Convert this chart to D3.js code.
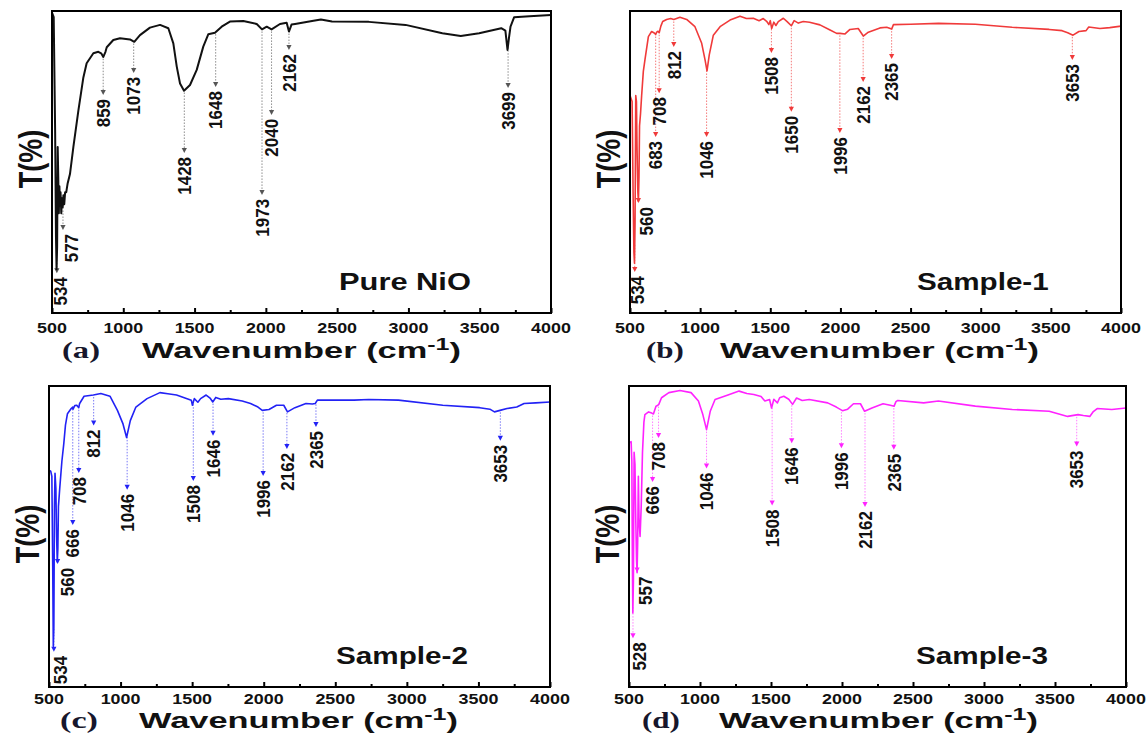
<!DOCTYPE html>
<html>
<head>
<meta charset="utf-8">
<script src="https://cdn.jsdelivr.net/npm/d3@7"></script>
<style>
  body { margin: 0; background: #fff; }
  text { font-family: "Liberation Sans", Arial, sans-serif; }
</style>
</head>
<body>
<script>
var W = 1146, H = 734;

// x axis
var wavenumberTicks = [500, 1000, 1500, 2000, 2500, 3000, 3500, 4000];
var minorTicks = [750, 1250, 1750, 2250, 2750, 3250, 3750];

var sampleNames = ['Pure NiO', 'Sample-1', 'Sample-2', 'Sample-3'];
var panelLetters = ['(a)', '(b)', '(c)', '(d)'];

// spectra, [wavenumber, T] with T on a 0-100 relative scale
var pureNiO = [[500,99.5],[512,98],[522,60],[528,25],[532,14.5],[536,22],[540,55],[544,45],[548,33],
  [552,42],[556,36],[560,40],[565,33],[570,38],[575,35],[580,39],[586,36],[592,40],[600,40],[610,43],
  [626,46],[650,55],[685,67],[720,78],[743,82.7],[790,86],[825,86.5],[845,86],[860,84.8],[875,86.5],
  [884,88],[930,90.4],[977,91],[1047,90.6],[1077,89.8],[1117,92],[1187,94.5],[1258,95.4],[1316,94.3],
  [1351,89.3],[1375,81.6],[1398,76],[1426,73.6],[1468,75.5],[1515,80.5],[1561,88.2],[1596,92.3],
  [1643,92.8],[1690,94.8],[1748,96.5],[1842,96.7],[1936,95.7],[1973,93.9],[2006,94.8],[2040,93.9],
  [2099,95.7],[2146,96.1],[2162,93.2],[2180,95.5],[2205,95.7],[2334,96.8],[2386,97.2],[2464,96.5],
  [2722,96.4],[2980,95.4],[3238,92.6],[3367,91.7],[3496,92.6],[3651,94.3],[3680,93.5],[3695,87.1],
  [3705,91],[3716,94.8],[3741,97.9],[3850,98.3],[4000,98.7]];

var sample1 = [[500,72],[515,70],[522,40],[528,20],[532,16.5],[536,30],[541,72],[546,70],[550,55],
  [556,40],[560,37],[564,45],[568,62],[575,66],[583,72],[595,80],[607,84],[631,91.5],[654,93.2],
  [673,92.7],[683,92.2],[690,93],[700,93.3],[708,92.8],[720,95],[733,96.5],[761,97.2],[790,97.5],
  [812,97.2],[856,97.9],[904,97.2],[963,94.8],[1011,89.3],[1035,83.8],[1049,80.2],[1065,85.5],
  [1094,92],[1142,94.8],[1213,97],[1284,98.3],[1330,97.5],[1379,97.6],[1420,96.8],[1450,97.5],
  [1474,96.6],[1490,95.5],[1500,96.8],[1510,94.2],[1525,96.3],[1540,95.2],[1557,96.5],[1593,97.6],
  [1620,96.5],[1650,95.1],[1670,96.8],[1700,96],[1735,96.5],[1780,96.3],[1854,95.4],[1926,93.7],
  [1973,92.6],[1997,92.6],[2033,92.4],[2068,93.9],[2127,94.2],[2163,91.7],[2199,93],[2282,94.4],
  [2330,94.6],[2365,94],[2378,95.5],[2500,95.6],[2699,95.9],[2962,95.6],[3224,94.6],[3487,93.9],
  [3580,93.5],[3620,92.8],[3658,92],[3700,93.2],[3751,93.5],[3770,94.7],[3850,94.2],[3920,94.5],
  [4000,95]];

var sample2 = [[500,72],[512,71.7],[520,70],[526,40],[530,13.5],[534,20],[538,60],[542,71],[548,66],
  [553,50],[558,41.5],[562,46],[566,60],[575,66],[590,75],[603,80.7],[615,87],[629,90.8],[655,92.5],
  [666,93],[668,92.3],[680,93.5],[694,93.6],[708,92.8],[714,94.2],[745,96.6],[810,97],[862,97.5],
  [926,96.6],[978,91.9],[1017,87.4],[1042,82.9],[1068,88.5],[1107,93],[1185,95.8],[1275,97.8],
  [1330,97.4],[1391,97],[1440,96.2],[1494,95.3],[1502,93.6],[1515,95.8],[1540,94.6],[1559,95.8],
  [1598,97],[1625,96],[1644,94.7],[1665,96.2],[1700,95.6],[1753,95.8],[1850,95],[1908,94.2],
  [1960,93],[1990,91.9],[2037,92.2],[2089,93.6],[2140,93.6],[2166,91.4],[2218,92.8],[2295,94.2],
  [2340,94],[2360,94.2],[2375,95.3],[2631,95.3],[2734,95.5],[2941,95.3],[3251,93.6],[3509,92.8],
  [3580,92.3],[3612,91.4],[3651,91.9],[3700,92.5],[3768,93],[3819,94.2],[3900,94.4],[4000,94.7]];

var sample3 = [[500,81],[515,81.5],[520,75],[524,40],[527,24.6],[531,35],[536,78],[542,74],[548,55],
  [553,42],[557,38],[561,48],[566,70],[571,55],[578,50],[586,60],[595,78],[605,88],[612,90.5],
  [638,91.4],[660,91],[672,90.7],[690,93.3],[700,93.5],[710,93.9],[729,96.1],[781,97.8],[859,98.5],
  [937,97.8],[989,95],[1020,90.5],[1046,85.5],[1072,91.6],[1106,95.5],[1197,97],[1275,98.3],
  [1330,97.5],[1379,97.2],[1430,96.5],[1457,95],[1490,95.5],[1504,92.7],[1520,95.6],[1545,94.4],
  [1561,96.1],[1590,96.6],[1625,95.6],[1652,93.9],[1680,96],[1720,95.2],[1769,95.5],[1899,94.4],
  [1960,93],[2003,91.8],[2040,92.3],[2081,94.1],[2130,94.1],[2159,91.6],[2211,92.7],[2289,94.1],
  [2340,93.6],[2367,93.3],[2380,94.8],[2393,95.2],[2575,94.4],[2679,95],[2939,93.3],[3199,92.2],
  [3459,91.6],[3589,89.9],[3662,90.5],[3700,90.2],[3745,89.9],[3770,91.5],[3797,92.5],[3900,92.2],
  [4000,92.7]];

// marked bands and where each arrow ends (T units)
var peaksNiO = [534, 577, 859, 1073, 1428, 1648, 1973, 2040, 2162, 3699];
var tipsNiO  = [13.2, 27.5, 72.2, 79.5, 53, 74.8, 39.1, 65.6, 87.1, 74.5];
var peaks1 = [534, 560, 683, 708, 812, 1046, 1508, 1650, 1996, 2162, 2365, 3653];
var tips1  = [13.6, 36.4, 58.3, 72.8, 88.1, 58.3, 86.1, 66.6, 59.6, 76.5, 84.1, 83.8];
var peaks2 = [534, 560, 666, 708, 812, 1046, 1508, 1646, 1996, 2162, 2365, 3653];
var tips2  = [11.7, 40.9, 53.8, 71.1, 86.9, 65.5, 68.4, 83.5, 70.1, 79.1, 86.4, 81.8];
var peaks3 = [528, 557, 666, 708, 1046, 1508, 1646, 1996, 2162, 2365, 3653];
var tips3  = [16.2, 38, 68.1, 82.7, 72.6, 60.3, 81, 79.3, 59.8, 78.8, 79.9];

// layout; nudge moves the two crowded left-most labels off their arrows
var panels = [
  { x0: 52,  x1: 551,  y0: 11,  y1: 313, data: pureNiO, peaks: peaksNiO, tips: tipsNiO,
    line: '#111', lw: 2, guide: '#8c8c8c', head: '#555', letterDx: 10, tickGap: 20, below: 45, nudge: [3, 8] },
  { x0: 630, x1: 1121, y0: 11,  y1: 313, data: sample1, peaks: peaks1, tips: tips1,
    line: '#f03a3a', lw: 1.6, guide: '#f47a7a', head: '#f03a3a', letterDx: 16, tickGap: 20, below: 45, nudge: [2, 8] },
  { x0: 49,  x1: 550,  y0: 386, y1: 687, data: sample2, peaks: peaks2, tips: tips2,
    line: '#2222f5', lw: 1.6, guide: '#7a7af5', head: '#2222f5', letterDx: 11, tickGap: 17, below: 41, nudge: [6, 10] },
  { x0: 629, x1: 1126, y0: 386, y1: 687, data: sample3, peaks: peaks3, tips: tips3,
    line: '#ff22ff', lw: 1.6, guide: '#ff80ff', head: '#ff22ff', letterDx: 13, tickGap: 17, below: 41, nudge: [6, 8] }
];

var svg = d3.select('body').append('svg')
  .attr('width', W)
  .attr('height', H);

// stretch a horizontal text so it fills [left, left+width]
function fitText(g, left, baseline, width) {
  var bw = g.node().getBBox().width;
  g.attr('transform', 'translate(' + left + ',' + baseline + ') scale(' + (width / bw) + ',1)');
}

var bisect = d3.bisector(function(d) { return d[0]; }).left;
function valueAt(data, wn) {
  var i = bisect(data, wn);
  if (i <= 0) return data[0][1];
  if (i >= data.length) return data[data.length - 1][1];
  var a = data[i - 1], b = data[i];
  return a[1] + (b[1] - a[1]) * (wn - a[0]) / (b[0] - a[0]);
}

panels.forEach(function(p, k) {
  var x = d3.scaleLinear().domain([500, 4000]).range([p.x0, p.x1]);
  var y = d3.scaleLinear().domain([0, 100]).range([p.y1, p.y0]);
  var g = svg.append('g');

  // arrows and band labels
  p.peaks.forEach(function(wn, i) {
    var px = x(wn);
    var yStart = y(valueAt(p.data, wn)) + 2;
    var yTip = y(p.tips[i]);
    if (yTip - 5 > yStart) {
      g.append('line')
        .attr('x1', px).attr('x2', px)
        .attr('y1', yStart).attr('y2', yTip - 4)
        .attr('stroke', p.guide)
        .attr('stroke-width', 1)
        .attr('stroke-dasharray', '1.5,1.5');
    }
    g.append('path')
      .attr('d', 'M' + (px - 2.6) + ',' + (yTip - 5) + 'L' + (px + 2.6) + ',' + (yTip - 5) + 'L' + px + ',' + yTip + 'Z')
      .attr('fill', p.head);
    var lx = px + (i < 2 ? p.nudge[i] : 0);
    var lg = g.append('g')
      .attr('transform', 'translate(' + lx + ',' + (yTip + 4) + ') scale(1.1,1) rotate(-90)');
    lg.append('text')
      .attr('text-anchor', 'end')
      .attr('dy', '0.36em')
      .attr('font-size', 17)
      .attr('font-weight', 'bold')
      .attr('fill', '#111')
      .text(wn);
  });

  // spectrum
  var line = d3.line()
    .x(function(d) { return x(d[0]); })
    .y(function(d) { return y(d[1]); });
  g.append('path')
    .datum(p.data)
    .attr('d', line)
    .attr('fill', 'none')
    .attr('stroke', p.line)
    .attr('stroke-width', p.lw)
    .attr('stroke-linejoin', 'round');

  // frame
  g.append('rect')
    .attr('x', p.x0).attr('y', p.y0)
    .attr('width', p.x1 - p.x0).attr('height', p.y1 - p.y0)
    .attr('fill', 'none')
    .attr('stroke', '#000')
    .attr('stroke-width', 2);

  // inward ticks
  var axis = g.append('g').attr('transform', 'translate(0,' + p.y1 + ')');
  axis.call(d3.axisBottom(x).tickValues(wavenumberTicks).tickSize(-5).tickSizeOuter(0).tickFormat(''));
  axis.append('g').call(d3.axisBottom(x).tickValues(minorTicks).tickSize(-3).tickSizeOuter(0).tickFormat(''));
  axis.selectAll('.domain').remove();
  axis.selectAll('.tick line').attr('stroke', '#000').attr('stroke-width', 2);

  wavenumberTicks.forEach(function(v) {
    g.append('text')
      .attr('transform', 'translate(' + x(v) + ',' + (p.y1 + p.tickGap) + ') scale(1.28,1)')
      .attr('text-anchor', 'middle')
      .attr('font-size', 14)
      .attr('font-weight', 'bold')
      .attr('fill', '#111')
      .text(v);
  });

  // x title
  var tg = g.append('g');
  var tt = tg.append('text')
    .attr('font-size', 22)
    .attr('font-weight', 'bold')
    .attr('fill', '#111');
  tt.append('tspan').text('Wavenumber (cm');
  tt.append('tspan').attr('font-size', 16).attr('dy', -8).text('-1');
  tt.append('tspan').attr('dy', 8).text(')');
  fitText(tg, p.x0 + 90, p.y1 + p.below, 319);

  // panel letter
  var lg2 = g.append('g');
  lg2.append('text')
    .style('font-family', '"Liberation Serif", "Times New Roman", serif')
    .attr('font-size', 24)
    .attr('font-weight', 'bold')
    .attr('fill', '#16162c')
    .text(panelLetters[k]);
  fitText(lg2, p.x0 + p.letterDx, p.y1 + p.below, 38);

  // sample name
  var ng = g.append('g');
  ng.append('text')
    .attr('font-size', 23)
    .attr('font-weight', 'bold')
    .attr('fill', '#111')
    .text(sampleNames[k]);
  fitText(ng, p.x0 + 287, p.y1 - 23, 132);

  // y title
  g.append('text')
    .attr('transform', 'translate(' + (p.x0 - 22) + ',' + (p.y0 + 148) + ') scale(1.2,1) rotate(-90)')
    .attr('text-anchor', 'middle')
    .attr('dy', '0.36em')
    .attr('font-size', 27)
    .attr('font-weight', 'bold')
    .attr('fill', '#111')
    .text('T(%)');
});
</script>
</body>
</html>
